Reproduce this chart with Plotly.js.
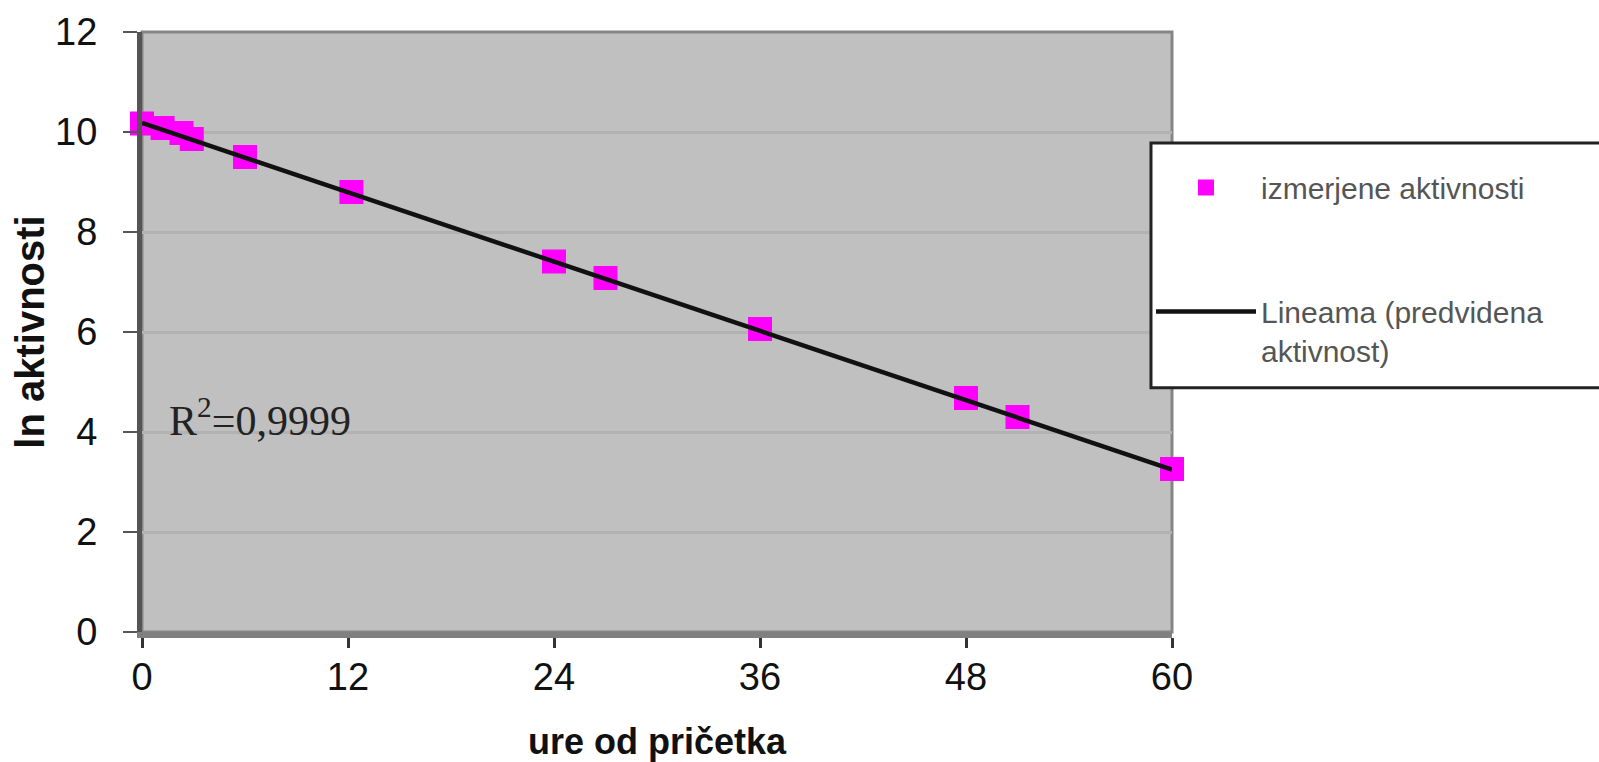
<!DOCTYPE html>
<html>
<head>
<meta charset="utf-8">
<script src="https://cdn.plot.ly/plotly-3.0.1.min.js"></script>
<style>html,body{margin:0;padding:0;background:#fff;}#chart{width:1599px;height:762px;}</style>
</head>
<body>
<div id="chart"></div>
<script>
// Measured data (hours since start, ln of activity)
const hours = [0, 1.2, 2.3, 2.9, 6, 12.2, 24, 27, 36, 48, 51, 60];
const lnActivity = [10.17, 10.08, 9.98, 9.86, 9.50, 8.80, 7.41, 7.08, 6.06, 4.68, 4.30, 3.26];
// Linear fit (predicted activity)
const fitHours = [0, 60];
const fitLn = [10.18, 3.25];
const xTicks = [0, 12, 24, 36, 48, 60];
const yTicks = [0, 2, 4, 6, 8, 10, 12];
const seriesNames = ["izmerjene aktivnosti", "Lineama (predvidena<br>aktivnost)"];
const r2Text = "R<sup>2</sup>=0,9999";

const traces = [
  {
    x: hours, y: lnActivity, type: "scatter", mode: "markers",
    name: seriesNames[0], legendgroup: "a",
    marker: {symbol: "square", size: 24, color: "#FF00FF"},
    cliponaxis: false
  },
  {
    x: fitHours, y: fitLn, type: "scatter", mode: "lines",
    name: seriesNames[1], legendgroup: "b",
    line: {color: "#111111", width: 4.5},
    cliponaxis: false
  }
];

const layout = {
  width: 1599, height: 762,
  margin: {l: 142, r: 427, t: 32, b: 130},
  paper_bgcolor: "#ffffff",
  plot_bgcolor: "#C0C0C0",
  showlegend: true,
  font: {family: "Liberation Sans, Arial, sans-serif", color: "#111"},
  xaxis: {
    range: [0, 60], tickvals: xTicks, ticktext: xTicks.map(String),
    showgrid: false, zeroline: false,
    showline: true, linecolor: "#808080", linewidth: 6,
    ticks: "", ticklen: 0,
    minor: {tickvals: xTicks, ticks: "outside", ticklen: 10, tickwidth: 3, tickcolor: "#333", showgrid: false},
    ticklabelstandoff: 6,
    tickfont: {size: 38, color: "#111"},
    title: {text: "ure od pričetka", font: {size: 36, color: "#111", weight: "bold"}, standoff: 46}
  },
  yaxis: {
    range: [0, 12], tickvals: yTicks, ticktext: yTicks.map(String),
    showgrid: true, gridcolor: "#b2b2b2", gridwidth: 3,
    zeroline: false,
    showline: true, linecolor: "#555", linewidth: 5,
    ticks: "outside", ticklen: 14, tickwidth: 2, tickcolor: "#555",
    ticklabelstandoff: 18,
    tickfont: {size: 38, color: "#111"},
    title: {text: "ln aktivnosti", font: {size: 40, color: "#111", weight: "bold"}, standoff: 0}
  },
  shapes: [
    {type: "rect", xref: "paper", yref: "paper", x0: 0, x1: 1, y0: 0, y1: 1,
     line: {color: "#858585", width: 3}, layer: "below"},
    {type: "rect", xref: "paper", yref: "paper", x0: 0.9796, x1: 1.45, y0: 0.815, y1: 0.407,
     line: {color: "#222", width: 3}, fillcolor: "#ffffff", layer: "above"}
  ],
  legend: {
    x: 0.9796, xanchor: "left", y: 0.784, yanchor: "top",
    bgcolor: "rgba(0,0,0,0)", borderwidth: 0,
    font: {size: 30, color: "#555"},
    itemwidth: 100, traceorder: "grouped", tracegroupgap: 82, valign: "top"
  },
  annotations: [
    {x: 6.9, y: 4.3, xref: "x", yref: "y", text: r2Text, showarrow: false,
     font: {family: "Liberation Serif, Times New Roman, serif", size: 42, color: "#222"}}
  ]
};

Plotly.newPlot("chart", traces, layout, {displayModeBar: false, staticPlot: true});
</script>
</body>
</html>
